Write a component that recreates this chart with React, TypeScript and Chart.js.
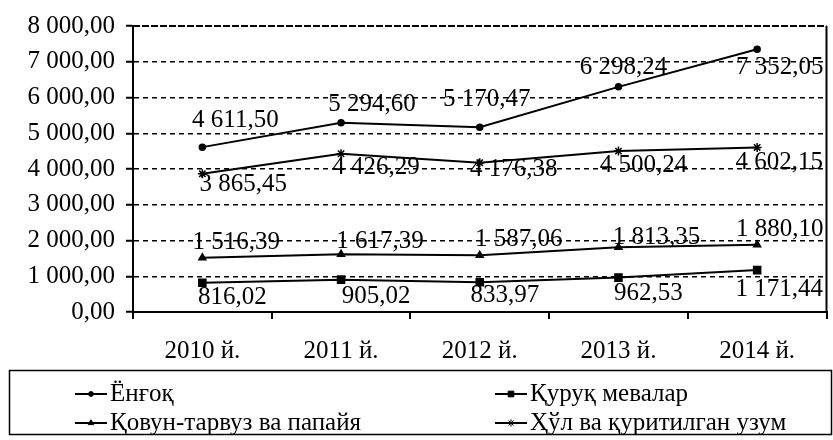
import React, { useEffect, useRef } from 'react';
import { Chart, registerables } from 'chart.js';
import { drawPoint } from 'chart.js/helpers';

Chart.register(...registerables);

const categories = ['2010 й.', '2011 й.', '2012 й.', '2013 й.', '2014 й.'];
const yongoq = [4611.5, 5294.6, 5170.47, 6298.24, 7352.05];
const quruqMevalar = [816.02, 905.02, 833.97, 962.53, 1171.44];
const qovunTarvuz = [1516.39, 1617.39, 1587.06, 1813.35, 1880.1];
const uzum = [3865.45, 4426.29, 4176.38, 4500.24, 4602.15];
const seriesNames = ['Ёнғоқ', 'Қуруқ мевалар', 'Қовун-тарвуз ва папайя', 'Ҳўл ва қуритилган узум'];
const yMin = 0;
const yMax = 8000;
const yStep = 1000;

const FONT = '"Liberation Serif", "Times New Roman", "DejaVu Serif", serif';

// label placement (style only): per series offsets relative to the point
const labelDx = [
  [33, 31, 7, 5, 23],
  [30, 35, 25, 30, 22],
  [34, 39, 39, 38, 23],
  [41, 35, 34, 25, 22],
];
const labelDy = [
  [-27, -18, -28, -19, 18],
  [15, 17, 13, 16, 19],
  [-15, -13, -16, -10, -15],
  [11, 14, 7, 14, 15],
];

const markerStyles = [
  { pointStyle: 'circle', radius: 3 },
  { pointStyle: 'rect', radius: 5 },
  { pointStyle: 'triangle', radius: 4 },
  { pointStyle: 'star', radius: 4.5 },
];

function fmt(v: number): string {
  const [i, d] = Number(v).toFixed(2).split('.');
  return i.replace(/\B(?=(\d{3})+(?!\d))/g, ' ') + ',' + d;
}

const labelPlugin = {
  id: 'valueLabels',
  afterDatasetsDraw(chart: any) {
    const ctx = chart.ctx;
    ctx.save();
    ctx.font = `25px ${FONT}`;
    ctx.fillStyle = '#000';
    ctx.textAlign = 'center';
    ctx.textBaseline = 'middle';
    chart.data.datasets.forEach((ds: any, di: number) => {
      const meta = chart.getDatasetMeta(di);
      meta.data.forEach((pt: any, i: number) => {
        const txt = fmt(ds.data[i]);
        let x = pt.x + labelDx[di][i];
        const w = ctx.measureText(txt).width;
        const maxX = chart.chartArea.right - 3 - w / 2;
        if (x > maxX) x = maxX;
        ctx.fillText(txt, x, pt.y + labelDy[di][i]);
      });
    });
    ctx.restore();
  },
};

const framePlugin = {
  id: 'frameAndLegend',
  afterDraw(chart: any) {
    const ctx = chart.ctx;
    const { top, bottom, right, left } = chart.chartArea;
    ctx.save();
    ctx.strokeStyle = '#000';
    ctx.lineWidth = 2;
    ctx.setLineDash([7, 2]);
    ctx.beginPath();
    ctx.moveTo(left, top);
    ctx.lineTo(right, top);
    ctx.stroke();
    ctx.setLineDash([]);
    ctx.beginPath();
    ctx.moveTo(right, top);
    ctx.lineTo(right, bottom);
    ctx.stroke();

    // legend box
    ctx.lineWidth = 1.5;
    ctx.strokeRect(9.5, 370.5, 822, 64);
    const colX = [75, 495];
    const rowY = [394, 423];
    ctx.font = `25px ${FONT}`;
    ctx.textBaseline = 'middle';
    ctx.textAlign = 'left';
    [0, 1, 2, 3].forEach((di, k) => {
      const x = colX[k % 2];
      const y = rowY[Math.floor(k / 2)];
      ctx.lineWidth = 2;
      ctx.strokeStyle = '#000';
      ctx.fillStyle = '#000';
      ctx.beginPath();
      ctx.moveTo(x, y);
      ctx.lineTo(x + 32, y);
      ctx.stroke();
      const m = markerStyles[di];
      ctx.lineWidth = 1;
      drawPoint(ctx, { pointStyle: m.pointStyle, radius: m.radius * 0.8, rotation: 0, borderWidth: 1 } as any, x + 16, y);
      ctx.fillStyle = '#000';
      ctx.fillText(seriesNames[di], x + 35, y);
    });
    ctx.restore();
  },
};

export default function App() {
  const ref = useRef<HTMLCanvasElement>(null);
  useEffect(() => {
    if (!ref.current) return;
    const series = [yongoq, quruqMevalar, qovunTarvuz, uzum];
    const chart = new Chart(ref.current, {
      type: 'line',
      data: {
        labels: categories,
        datasets: series.map((d, i) => ({
          label: seriesNames[i],
          data: d,
          borderColor: '#000',
          backgroundColor: '#000',
          borderWidth: 2,
          pointStyle: markerStyles[i].pointStyle as any,
          pointRadius: markerStyles[i].radius,
          pointBorderColor: '#000',
          pointBackgroundColor: '#000',
          pointBorderWidth: 1.5,
          tension: 0,
          fill: false,
        })),
      },
      options: {
        animation: false,
        responsive: true,
        maintainAspectRatio: false,
        layout: { padding: { top: 24, right: 3, bottom: 0, left: 0 } },
        plugins: {
          legend: { display: false },
          tooltip: { enabled: false },
        },
        scales: {
          x: {
            offset: true,
            grid: {
              display: true,
              drawOnChartArea: false,
              drawTicks: true,
              tickLength: 7,
              offset: true,
              color: '#000',
              lineWidth: 2,
            },
            border: { display: true, color: '#000', width: 2 },
            ticks: {
              color: '#000',
              font: { family: FONT, size: 25 },
              padding: 17,
              maxRotation: 0,
              autoSkip: false,
            },
            afterFit: (s: any) => {
              s.height = 128;
            },
          },
          y: {
            min: yMin,
            max: yMax,
            ticks: {
              stepSize: yStep,
              color: '#000',
              font: { family: FONT, size: 25 },
              padding: 11,
              callback: (v: any) => fmt(Number(v)),
            },
            grid: {
              color: '#000',
              lineWidth: 1.5,
              drawTicks: true,
              tickLength: 7,
              tickColor: '#000',
              tickWidth: 2,
            },
            border: { display: true, color: '#000', width: 2, dash: [5, 4] },
            afterFit: (s: any) => {
              s.width = 133;
            },
          },
        },
      },
      plugins: [labelPlugin, framePlugin],
    });
    return () => chart.destroy();
  }, []);
  return (
    <div style={{ position: 'fixed', left: 0, top: 0, width: 833, height: 440, background: '#fff' }}>
      <canvas ref={ref} />
    </div>
  );
}
